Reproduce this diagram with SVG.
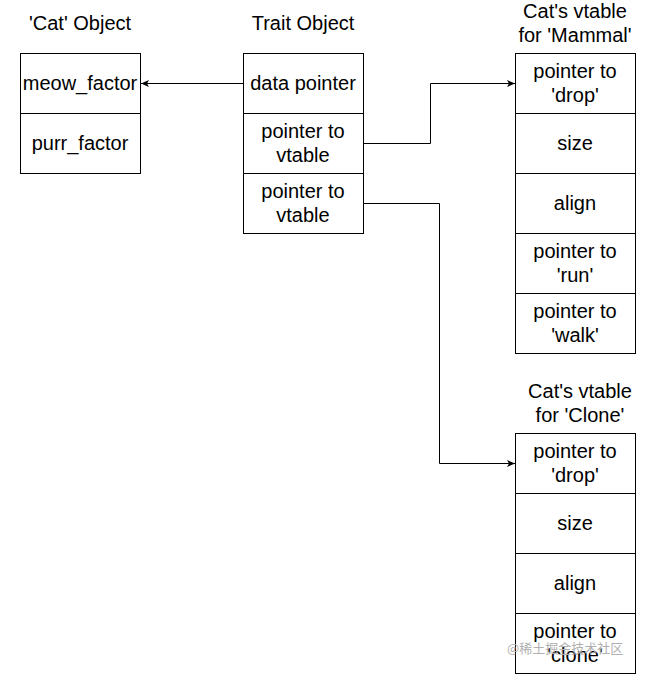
<svg xmlns="http://www.w3.org/2000/svg" width="646" height="674" viewBox="0 0 646 674">
<style>
rect{fill:#fff;stroke:#000;stroke-width:1}
text{font-family:"Liberation Sans",Arial,sans-serif;font-size:20px;fill:#000;text-anchor:middle}
.c{fill:none;stroke:#000;stroke-width:1}
.wm{font-family:"Noto Sans CJK SC","Liberation Sans",sans-serif;font-size:13px;fill:#b0b0b0;text-anchor:start}
</style>
<defs>
<marker id="ah" markerWidth="10" markerHeight="10" refX="9" refY="5" orient="auto" markerUnits="userSpaceOnUse">
<path d="M1,1.5 L9,5 L1,8.5 L3,5 Z" fill="#000"/>
</marker>
</defs>
<rect width="646" height="674" style="stroke:none"/>
<g id="cat-object">
<text x="80" y="30">'Cat' Object</text>
<rect x="20.5" y="53.5" width="120" height="60"/>
<rect x="20.5" y="113.5" width="120" height="60"/>
<text x="80" y="90">meow_factor</text>
<text x="80" y="150">purr_factor</text>
</g>
<g id="trait-object">
<text x="303" y="30">Trait Object</text>
<rect x="243.5" y="53.5" width="120" height="60"/>
<rect x="243.5" y="113.5" width="120" height="60"/>
<rect x="243.5" y="173.5" width="120" height="60"/>
<text x="303" y="90">data pointer</text>
<text x="303" y="138">pointer to</text>
<text x="303" y="162">vtable</text>
<text x="303" y="198">pointer to</text>
<text x="303" y="222">vtable</text>
</g>
<g id="mammal-vtable">
<text x="575" y="18">Cat's vtable</text>
<text x="575" y="42">for 'Mammal'</text>
<rect x="515.5" y="53.5" width="120" height="60"/>
<rect x="515.5" y="113.5" width="120" height="60"/>
<rect x="515.5" y="173.5" width="120" height="60"/>
<rect x="515.5" y="233.5" width="120" height="60"/>
<rect x="515.5" y="293.5" width="120" height="60"/>
<text x="575" y="78">pointer to</text>
<text x="575" y="102">'drop'</text>
<text x="575" y="150">size</text>
<text x="575" y="210">align</text>
<text x="575" y="258">pointer to</text>
<text x="575" y="282">'run'</text>
<text x="575" y="318">pointer to</text>
<text x="575" y="342">'walk'</text>
</g>
<g id="clone-vtable">
<text x="580" y="398">Cat's vtable</text>
<text x="580" y="422">for 'Clone'</text>
<rect x="515.5" y="433.5" width="120" height="60"/>
<rect x="515.5" y="493.5" width="120" height="60"/>
<rect x="515.5" y="553.5" width="120" height="60"/>
<rect x="515.5" y="613.5" width="120" height="60"/>
<text x="575" y="458">pointer to</text>
<text x="575" y="482">'drop'</text>
<text x="575" y="530">size</text>
<text x="575" y="590">align</text>
<text x="575" y="638">pointer to</text>
<text x="575" y="662">'clone'</text>
</g>
<g id="connectors">
<path class="c" d="M243,83.5 H141" marker-end="url(#ah)"/>
<path class="c" d="M363,143.5 H430.5 V83.5 H515" marker-end="url(#ah)"/>
<path class="c" d="M363,203.5 H439.5 V463.5 H515" marker-end="url(#ah)"/>
</g>
<text class="wm" x="507" y="653">@稀土掘金技术社区</text>
</svg>
